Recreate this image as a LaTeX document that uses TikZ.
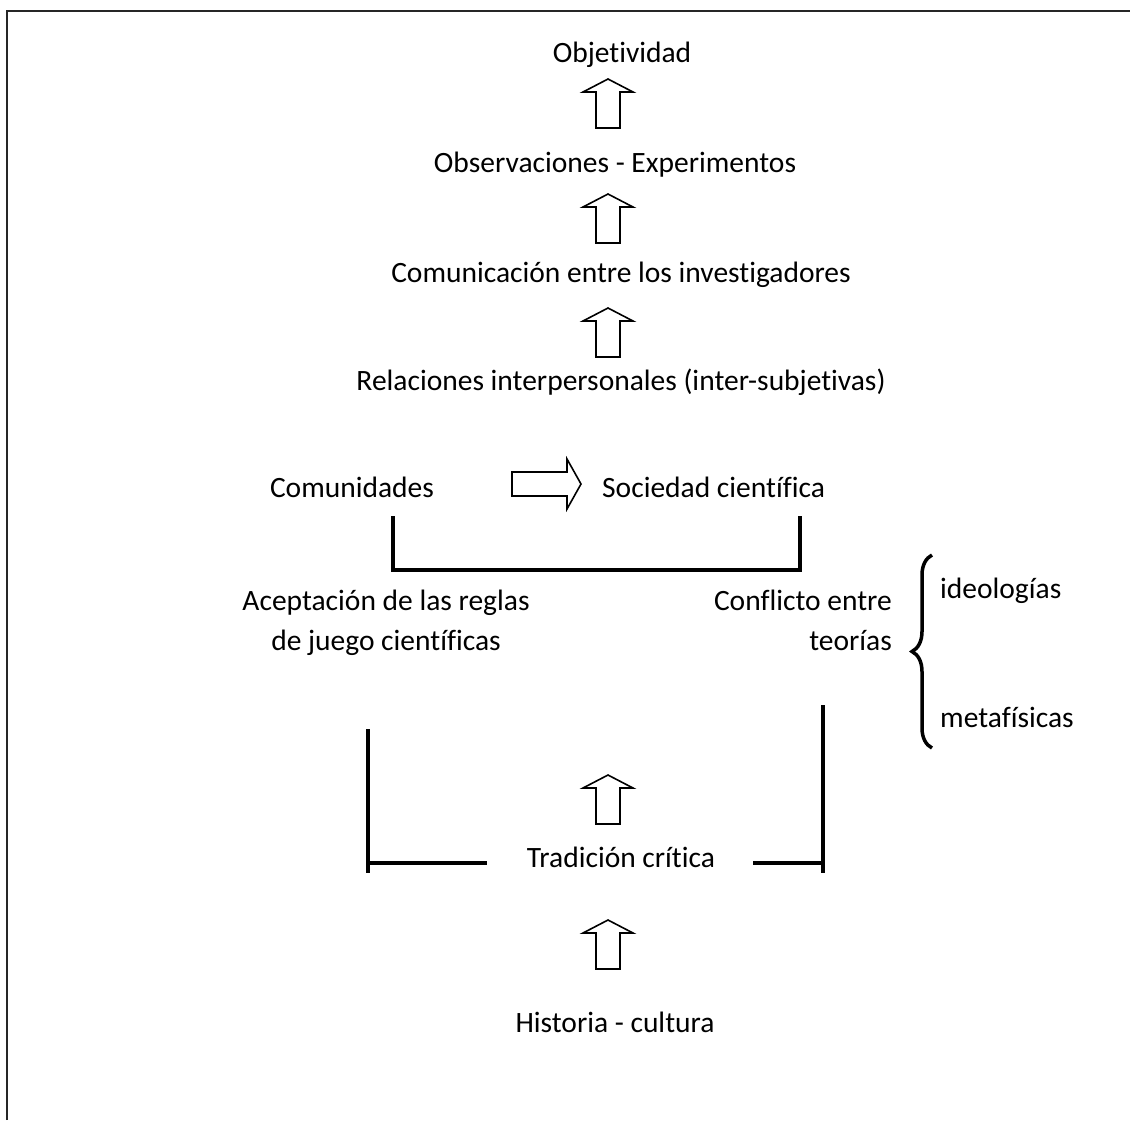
\documentclass[tikz,border=0pt]{standalone}
\usepackage{fontspec}
\setmainfont{Carlito}[RawFeature={-liga}]
\usetikzlibrary{decorations.pathreplacing}
\begin{document}
\begin{tikzpicture}[x=1pt,y=-1pt,
  txt/.style={font=\fontsize{29.5}{40}\selectfont, inner sep=0pt, anchor=base, align=center},
  bar/.style={line width=4.5pt},
  blockarrow/.style={line width=1.6pt, line join=miter},
  pics/uparr/.style={code={\draw[blockarrow] (-12,49) -- (-12,13) -- (-25,13) -- (0,0) -- (25,13) -- (12,13) -- (12,49) -- cycle;}},
  pics/rightarr/.style={code={\draw[blockarrow] (0,-12) -- (55,-12) -- (55,-25) -- (69,0) -- (55,25) -- (55,12) -- (0,12) -- cycle;}}
]
\useasboundingbox (0,0) rectangle (1130,1120);
% frame
\draw[line width=2pt, black!85] (7,1120) -- (7,11) -- (1130,11);

% texts
\node[txt] (obj) at (622,62) {Objetividad};
\node[txt] (obs) at (615,172) {Observaciones - Experimentos};
\node[txt] (com) at (621,282) {Comunicación entre los investigadores};
\node[txt] (rel) at (621,390) {Relaciones interpersonales (inter-subjetivas)};
\node[txt] (cdd) at (352,497) {Comunidades};
\node[txt, anchor=base west] (soc) at (602,497) {Sociedad científica};
\node[txt] (ace) at (386,650) {Aceptación de las reglas\\de juego científicas};
\node[txt, anchor=base east, align=right] (con) at (892,650) {Conflicto entre\\teorías};
\node[txt, anchor=base west] (ide) at (940,598) {ideologías};
\node[txt, anchor=base west] (met) at (940,727) {metafísicas};
\node[txt] (tra) at (621,867) {Tradición crítica};
\node[txt] (his) at (615,1032) {Historia - cultura};

% block arrows
\pic (a1) at (608,79) {uparr};
\pic (a2) at (608,194) {uparr};
\pic (a3) at (608,308) {uparr};
\pic (a4) at (608,775) {uparr};
\pic (a5) at (608,920) {uparr};
\pic (ar) at (512,484) {rightarr};

% brackets
\draw[bar] (393,516) -- (393,570) -- (800,570) -- (800,516);
\draw[bar] (368,729) -- (368,873);
\draw[bar] (368,863) -- (487,863);
\draw[bar] (823,705) -- (823,873);
\draw[bar] (753,863) -- (823,863);

% brace
\draw[line width=3.5pt, decorate, decoration={brace, amplitude=20pt}] (932,748) -- (932,555);
\end{tikzpicture}
\end{document}
